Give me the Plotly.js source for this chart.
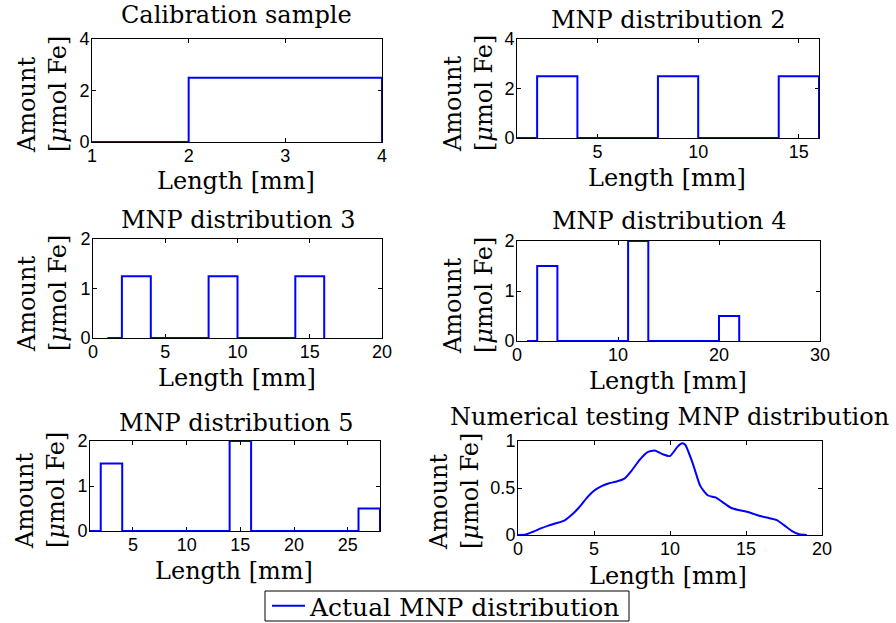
<!DOCTYPE html>
<html>
<head>
<meta charset="utf-8">
<script src="https://cdn.plot.ly/plotly-3.0.1.min.js"></script>
<style>html,body{margin:0;padding:0;background:#fff;}#chart{width:896px;height:623px;}</style>
</head>
<body>
<div id="chart"></div>
<script>
// ---- Data (step edges + levels, drawn with 'hv' steps) ----
const calEdges = [1, 2, 4];
const calLevels = [0, 2.5, 0];

const d2Edges = [1, 2, 4, 8, 10, 14, 16];
const d2Levels = [0, 2.5, 0, 2.5, 0, 2.5, 0];

const d3Edges = [1, 2, 4, 8, 10, 14, 16];
const d3Levels = [0, 1.25, 0, 1.25, 0, 1.25, 0];

const d4Edges = [1, 2, 4, 11, 13, 20, 22];
const d4Levels = [0, 1.5, 0, 2, 0, 0.5, 0];

const d5Edges = [1, 2, 4, 14, 16, 26, 28];
const d5Levels = [0, 1.5, 0, 2, 0, 0.5, 0];

const numX = [0, 0.5, 1, 1.5, 2, 2.5, 3, 3.5, 4, 4.5, 5, 5.5, 6, 6.5, 7, 7.5, 8, 8.5, 9, 9.5, 10, 10.5, 10.8, 11, 11.5, 12, 12.5, 13, 13.5, 14, 14.5, 15, 15.5, 16, 16.5, 17, 17.5, 18, 18.5, 19];
const numY = [0, 0.005, 0.035, 0.07, 0.10, 0.125, 0.15, 0.21, 0.29, 0.39, 0.47, 0.52, 0.55, 0.57, 0.60, 0.69, 0.80, 0.88, 0.90, 0.86, 0.84, 0.94, 0.975, 0.96, 0.76, 0.52, 0.42, 0.40, 0.345, 0.29, 0.265, 0.25, 0.225, 0.20, 0.18, 0.16, 0.105, 0.045, 0.008, 0];

const titles = ["Calibration sample", "MNP distribution 2", "MNP distribution 3", "MNP distribution 4", "MNP distribution 5", "Numerical testing MNP distribution"];
const xRanges = [[1, 4], [1, 16], [0, 20], [0, 30], [1, 28], [0, 20]];
const yRanges = [[0, 4], [0, 4], [0, 2], [0, 2], [0, 2], [0, 1]];
const xTicks = [[1, 2, 3, 4], [5, 10, 15], [0, 5, 10, 15, 20], [0, 10, 20, 30], [5, 10, 15, 20, 25], [0, 5, 10, 15, 20]];
const yTicks = [[0, 2, 4], [0, 2, 4], [0, 1, 2], [0, 1, 2], [0, 1, 2], [0, 0.5, 1]];
const xLabel = "Length [mm]";
const yLabel = "Amount<br>[<i>μ</i>mol Fe]";
const legendName = "Actual MNP distribution";

// ---- Layout geometry (pixels) ----
const W = 896, H = 623;
const boxes = [ // [left, right, top, bottom]
  [92, 382, 39, 142],
  [517, 819, 39, 138],
  [93, 382, 239, 338],
  [517, 820, 241, 341],
  [90, 380, 441, 531],
  [518, 822, 441, 535]
];
const titleY = [15.5, 19.5, 219.5, 221.5, 422.5, 416.5];
const titleX = [237, 668, 238, 669, 236, 669];
const xlabY = [181, 178, 378, 381, 571, 576];
const xlabX = [236, 667, 237, 668, 234, 668];
const ylab = [[42, 91], [468, 90], [42, 290], [468, 292], [40, 487], [455, 488]];
const legendBox = [265, 629, 591, 621];

const px = v => v / W;
const py = v => 1 - v / H;

const blue = '#0000ff';
const serif = 'DejaVu Serif, serif';
const sans = 'Liberation Sans, Arial, sans-serif';

const series = [
  [calEdges, calLevels, 'hv'],
  [d2Edges, d2Levels, 'hv'],
  [d3Edges, d3Levels, 'hv'],
  [d4Edges, d4Levels, 'hv'],
  [d5Edges, d5Levels, 'hv'],
  [numX, numY, 'spline']
];

const data = series.map((s, i) => ({
  x: s[0], y: s[1], type: 'scatter', mode: 'lines',
  line: {color: blue, width: 2, shape: s[2], smoothing: 0.6},
  name: legendName, showlegend: i === 0,
  xaxis: i === 0 ? 'x' : 'x' + (i + 1),
  yaxis: i === 0 ? 'y' : 'y' + (i + 1),
  hoverinfo: 'x+y'
}));

const layout = {
  width: W, height: H,
  margin: {l: 0, r: 0, t: 0, b: 0, autoexpand: false},
  paper_bgcolor: '#fff', plot_bgcolor: '#fff',
  showlegend: true,
  legend: {
    x: px(267), xanchor: 'left', y: py(583), yanchor: 'top',
    orientation: 'h', borderwidth: 0, bgcolor: 'rgba(0,0,0,0)',
    font: {family: serif, size: 25, color: '#000'}, itemwidth: 33
  },
  shapes: [{
    type: 'rect', xref: 'paper', yref: 'paper',
    x0: px(legendBox[0]), x1: px(legendBox[1]), y0: py(legendBox[3]), y1: py(legendBox[2]),
    line: {color: '#000', width: 1}, fillcolor: 'rgba(0,0,0,0)', layer: 'below'
  }],
  annotations: []
};

boxes.forEach((b, i) => {
  const sx = i === 0 ? '' : String(i + 1);
  const common = {
    showline: true, linecolor: '#000', linewidth: 1, mirror: 'allticks',
    ticks: 'inside', ticklen: 4, tickcolor: '#000', tickwidth: 1,
    showgrid: false, zeroline: false, layer: 'below traces',
    tickfont: {family: sans, size: 18, color: '#000'}, fixedrange: true
  };
  layout['xaxis' + sx] = Object.assign({}, common, {
    domain: [px(b[0]), px(b[1])], range: xRanges[i],
    tickmode: 'array', tickvals: xTicks[i], ticklabelstandoff: -3,
    anchor: 'y' + sx
  });
  layout['yaxis' + sx] = Object.assign({}, common, {
    domain: [py(b[3]), py(b[2])], range: yRanges[i],
    tickmode: 'array', tickvals: yTicks[i], ticklabelstandoff: -2,
    anchor: 'x' + sx
  });
  layout.annotations.push({
    text: titles[i], xref: 'paper', yref: 'paper',
    x: px(titleX[i]), y: py(titleY[i]), xanchor: 'center', yanchor: 'middle',
    showarrow: false, font: {family: serif, size: 24, color: '#000'}
  });
  layout.annotations.push({
    text: xLabel, xref: 'paper', yref: 'paper',
    x: px(xlabX[i]), y: py(xlabY[i]), xanchor: 'center', yanchor: 'middle',
    showarrow: false, font: {family: serif, size: 24, color: '#000'}
  });
  layout.annotations.push({
    text: yLabel, xref: 'paper', yref: 'paper', textangle: -90, align: 'left',
    width: 125,
    x: px(ylab[i][0]), y: py(ylab[i][1]), xanchor: 'center', yanchor: 'middle',
    showarrow: false, font: {family: serif, size: 24, color: '#000'}
  });
});

Plotly.newPlot('chart', data, layout, {displayModeBar: false, staticPlot: true});
</script>
</body>
</html>
